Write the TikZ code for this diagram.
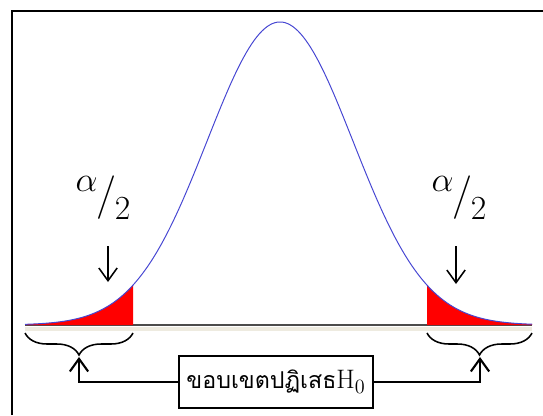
\documentclass[tikz,border=0pt]{standalone}
\usepackage{fontspec}
\newfontfamily\thaifont[Script=Thai]{Loma}
\usetikzlibrary{arrows.meta,positioning,decorations.pathreplacing}
\definecolor{curveblue}{RGB}{70,70,210}
\definecolor{baseband}{RGB}{238,235,224}
\definecolor{tailred}{RGB}{255,0,0}
% normal curve in picture units (y grows downwards)
\newcommand{\normy}[1]{325-303*exp(-((#1-280)/73)^2/2)}
\newcommand{\halfalpha}{\raisebox{1.2ex}{$\alpha$}\kern-1pt{\fontsize{31}{31}\selectfont/}\kern-1pt\raisebox{-0.75ex}{2}}

\begin{document}
\begin{tikzpicture}[x=0.025cm, y=-0.025cm,
    tail/.style={fill=tailred, draw=none},
    brc/.style={decorate, decoration={brace, mirror, amplitude=0.55cm}, line width=1.1pt},
    darr/.style={-{Straight Barb[length=9pt,width=13pt]}, line width=1.1pt},
    uarr/.style={-{Straight Barb[length=9pt,width=13pt]}, line width=1.5pt},
    lbl/.style={font=\fontsize{24}{24}\selectfont},
    box/.style={rectangle, draw, line width=1pt, minimum width=4.85cm,
                minimum height=1.3cm, font=\thaifont\fontsize{16.5}{18}\selectfont}
]
\useasboundingbox (0,0) rectangle (543,415);
\draw[line width=1.6pt] (12,415) -- (12,11) -- (543,11);

% axis
\fill[baseband] (25,327) rectangle (532,331);
\draw[gray!60!black, line width=1pt] (25,325) -- (532,325);

% rejection tails
\fill[tail] (25,325) -- plot[domain=25:133, samples=40] (\x,{\normy{\x}}) -- (133,325) -- cycle;
\fill[tail] (427,325) -- plot[domain=427:532, samples=40] (\x,{\normy{\x}}) -- (532,325) -- cycle;
\draw[curveblue, line width=0.7pt] plot[domain=25:532, samples=200] (\x,{\normy{\x}});

% labels
\node[lbl] (al) at (103,198) {\halfalpha};
\node[lbl] (ar) at (459,198) {\halfalpha};
\coordinate (ltop) at (108,246);
\coordinate (lhead) at (108,282);
\coordinate (rtop) at (456,246);
\coordinate (rhead) at (456,284);
\draw[darr] (ltop) -- (lhead);
\draw[darr] (rtop) -- (rhead);

% braces
\draw[brc] (25,333) -- (133,333);
\draw[brc] (427,333) -- (532,333);
\coordinate (ltip) at (79,357);
\coordinate (rtip) at (480,357);

\node[box] (rej) at (276,382) {ขอบเขตปฏิเสธ{\fontsize{19}{19}\selectfont$\mathrm{H}_0$}};
\draw[uarr] (rej.west) -| (ltip);
\draw[uarr] (rej.east) -| (rtip);
\end{tikzpicture}
\end{document}
